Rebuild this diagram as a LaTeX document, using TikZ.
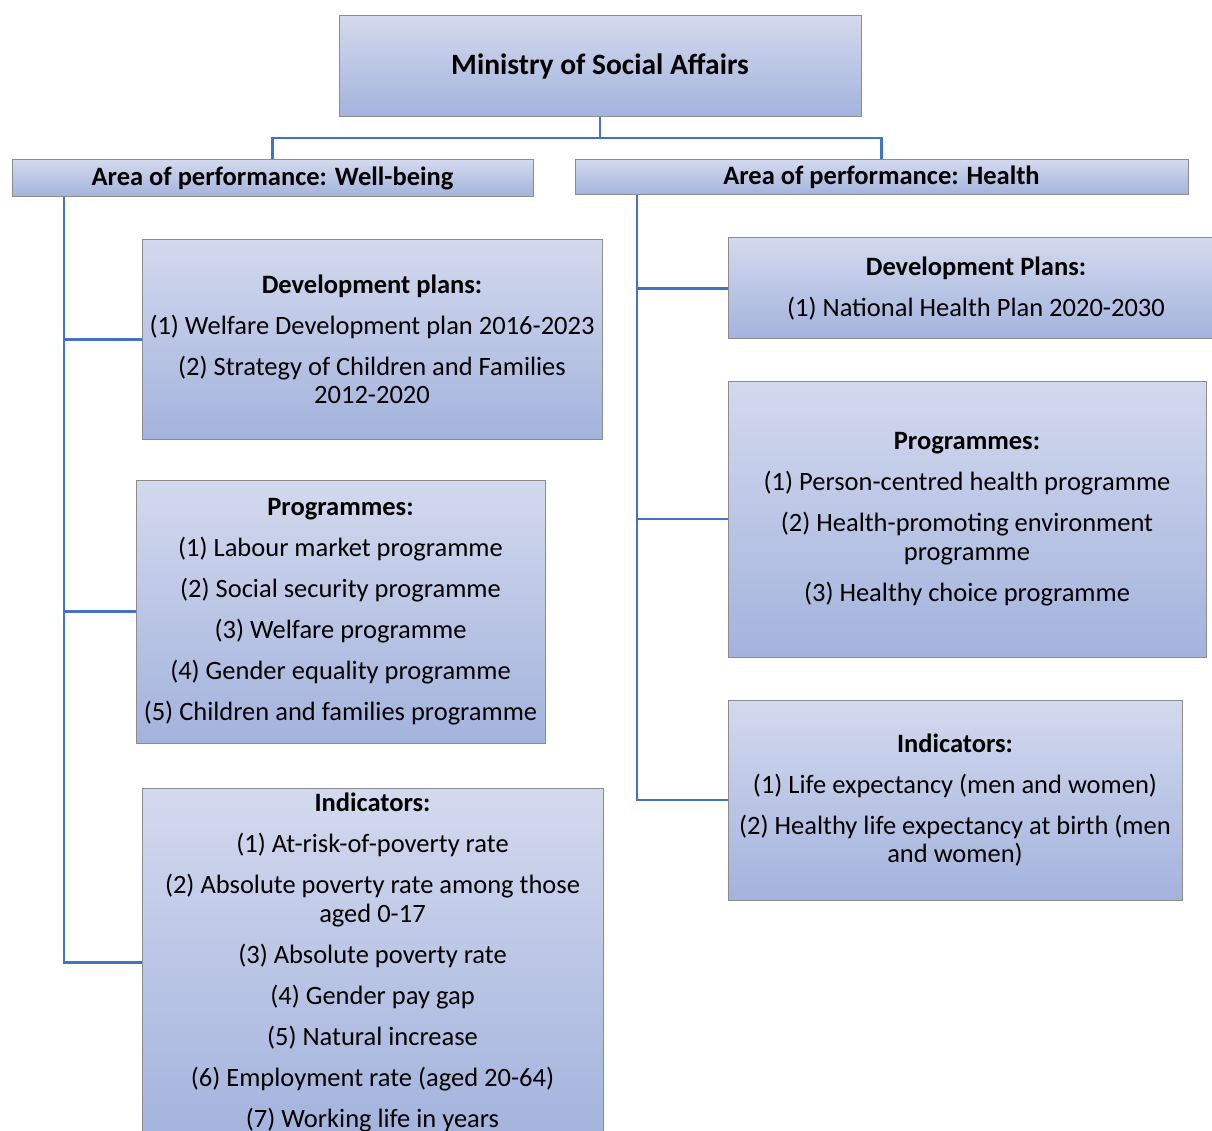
\documentclass[tikz,border=0pt]{standalone}
\usepackage{fontspec}
\setmainfont{Carlito}
\usepackage{xcolor}
\definecolor{boxtop}{HTML}{D3D9EE}
\definecolor{boxbot}{HTML}{A3B3DD}
\definecolor{boxline}{HTML}{8C8C8C}
\definecolor{linkblue}{HTML}{4472C4}
\newcommand{\gap}{\\[12.5pt]}

\begin{document}
\begin{tikzpicture}[x=1pt,y=-1pt,
  box/.style={draw=boxline,line width=1pt,top color=boxtop,bottom color=boxbot,
    inner sep=0pt,align=center,font=\fontsize{26.5}{28.5}\selectfont},
  link/.style={draw=linkblue,line width=2.5pt}]
  \useasboundingbox (0,0) rectangle (1212,1131);

  \node[box,minimum width=522pt,minimum height=101pt,font=\fontsize{29.5}{32}\selectfont] (M) at (600,66.5) {\textbf{Ministry of Social Affairs}};
  \node[box,minimum width=521pt,minimum height=37pt] (W) at (272.5,178.5) {\textbf{Area of performance: Well-being}};
  \node[box,minimum width=613pt,minimum height=35pt] (H) at (881.5,177.5) {\textbf{Area of performance: Health}};

  \node[box,minimum width=460pt,minimum height=199pt] (D1) at (372,339.5)
    {\textbf{Development plans:}\gap (1) Welfare Development plan 2016-2023\gap
     (2) Strategy of Children and Families\\ 2012-2020};
  \node[box,minimum width=409pt,minimum height=263pt] (P1) at (340.5,611.5)
    {\textbf{Programmes:}\gap (1) Labour market programme\gap (2) Social security programme\gap
     (3) Welfare programme\gap (4) Gender equality programme\gap (5) Children and families programme};
  \node[box,minimum width=461pt,minimum height=349pt] (I1) at (372.5,962.5)
    {\textbf{Indicators:}\gap (1) At-risk-of-poverty rate\gap (2) Absolute poverty rate among those\\ aged 0-17\gap
     (3) Absolute poverty rate\gap (4) Gender pay gap\gap (5) Natural increase\gap
     (6) Employment rate (aged 20-64)\gap (7) Working life in years};

  \node[box,minimum width=496pt,minimum height=101pt] (D2) at (976,288.5)
    {\textbf{Development Plans:}\gap (1) National Health Plan 2020-2030};
  \node[box,minimum width=478pt,minimum height=276pt] (P2) at (967,519)
    {\textbf{Programmes:}\gap (1) Person-centred health programme\gap
     (2) Health-promoting environment\\ programme\gap (3) Healthy choice programme};
  \node[box,minimum width=454pt,minimum height=200pt] (I2) at (955,800)
    {\textbf{Indicators:}\gap (1) Life expectancy (men and women)\gap
     (2) Healthy life expectancy at birth (men\\ and women)};

  % tree lines
  \coordinate (J) at (600,138);
  \coordinate (TL) at (64,0);
  \coordinate (TR) at (637,0);
  \draw[link] (M.south) -- (J);
  \draw[link] (W.north) |- (J) -| (H.north);
  \draw[link] (W.south -| TL) |- (D1.west);
  \draw[link] (W.south -| TL) |- (P1.west);
  \draw[link] (W.south -| TL) |- (I1.west);
  \draw[link] (H.south -| TR) |- (D2.west);
  \draw[link] (H.south -| TR) |- (P2.west);
  \draw[link] (H.south -| TR) |- (I2.west);
\end{tikzpicture}
\end{document}
